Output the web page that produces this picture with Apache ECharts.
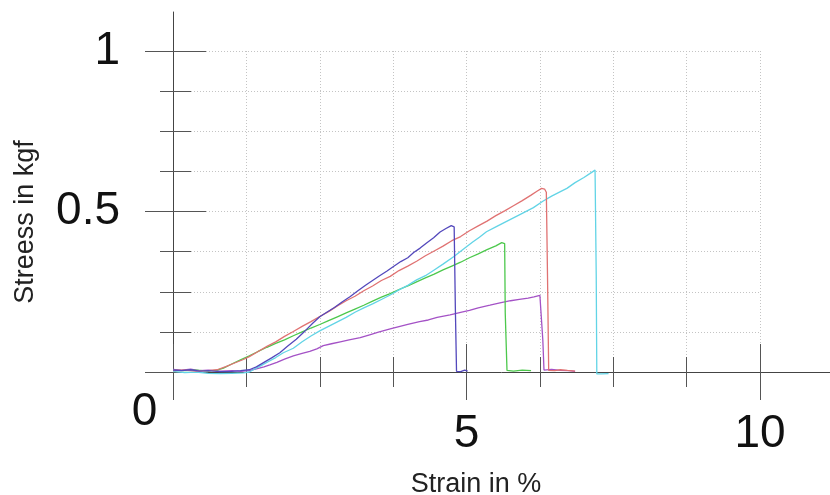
<!DOCTYPE html>
<html>
<head>
<meta charset="utf-8">
<script src="https://cdn.jsdelivr.net/npm/echarts@6/dist/echarts.min.js"></script>
<style>
  html, body { margin: 0; padding: 0; background: #fff; }
  #chart { width: 830px; height: 495px; }
</style>
</head>
<body>
<div id="chart"></div>
<script>
// [strain %, stress kgf], one list per specimen
const specimenBlue = [
  [0, 0.006], [0.15, 0.004], [0.3, 0.007], [0.45, 0.003], [0.6, 0.004], [0.8, 0.001],
  [1.0, 0.002], [1.15, 0.004], [1.3, 0.007], [1.42, 0.016], [1.55, 0.03], [1.68, 0.044],
  [1.82, 0.06], [1.95, 0.08], [2.1, 0.102], [2.25, 0.128], [2.38, 0.152], [2.5, 0.172],
  [2.62, 0.186], [2.75, 0.201], [2.88, 0.218], [3.02, 0.235], [3.15, 0.253], [3.28, 0.27],
  [3.4, 0.285], [3.52, 0.3], [3.64, 0.314], [3.75, 0.328], [3.88, 0.344], [4.0, 0.356],
  [4.1, 0.372], [4.21, 0.386], [4.32, 0.402], [4.44, 0.418], [4.55, 0.436], [4.65, 0.447],
  [4.74, 0.456], [4.79, 0.452], [4.81, 0.2], [4.83, 0.002], [4.9, 0.001], [4.97, 0.006], [5.02, 0.003]
];
const specimenRed = [
  [0, 0.004], [0.2, 0.006], [0.4, 0.003], [0.6, 0.004], [0.75, 0.007], [0.9, 0.017],
  [1.05, 0.028], [1.2, 0.039], [1.3, 0.048], [1.45, 0.064], [1.6, 0.08], [1.75, 0.094],
  [1.9, 0.111], [2.05, 0.126], [2.2, 0.142], [2.35, 0.157], [2.5, 0.173], [2.65, 0.188],
  [2.8, 0.206], [2.95, 0.222], [3.1, 0.236], [3.25, 0.253], [3.4, 0.268], [3.55, 0.285],
  [3.7, 0.298], [3.85, 0.316], [4.0, 0.33], [4.15, 0.345], [4.3, 0.362], [4.45, 0.377],
  [4.6, 0.392], [4.75, 0.409], [4.9, 0.422], [5.05, 0.44], [5.2, 0.455], [5.35, 0.47],
  [5.5, 0.487], [5.65, 0.502], [5.8, 0.518], [5.95, 0.534], [6.1, 0.551], [6.2, 0.563],
  [6.28, 0.572], [6.33, 0.57], [6.36, 0.56], [6.38, 0.3], [6.4, 0.005], [6.5, 0.004],
  [6.6, 0.007], [6.72, 0.005], [6.85, 0.003]
];
const specimenCyan = [
  [0, 0.002], [0.2, -0.002], [0.4, 0.0], [0.6, -0.004], [0.8, -0.005], [1.0, -0.004],
  [1.2, -0.003], [1.3, 0.0], [1.4, 0.01], [1.5, 0.02], [1.62, 0.032], [1.75, 0.045],
  [1.88, 0.06], [2.05, 0.074], [2.2, 0.094], [2.35, 0.112], [2.5, 0.128], [2.65, 0.142],
  [2.8, 0.156], [2.95, 0.17], [3.1, 0.186], [3.25, 0.2], [3.4, 0.212], [3.55, 0.226],
  [3.7, 0.24], [3.85, 0.256], [4.0, 0.27], [4.15, 0.287], [4.3, 0.3], [4.45, 0.318],
  [4.6, 0.336], [4.78, 0.359], [4.95, 0.383], [5.1, 0.404], [5.22, 0.42], [5.34, 0.437],
  [5.5, 0.452], [5.65, 0.466], [5.8, 0.48], [5.95, 0.494], [6.14, 0.512], [6.3, 0.532],
  [6.45, 0.548], [6.6, 0.562], [6.71, 0.572], [6.85, 0.59], [7.0, 0.606], [7.1, 0.618],
  [7.19, 0.629], [7.21, 0.3], [7.22, -0.006], [7.3, -0.006], [7.42, -0.005]
];
const specimenGreen = [
  [0, 0.005], [0.2, 0.004], [0.4, 0.006], [0.6, 0.003], [0.75, 0.006], [0.86, 0.012],
  [1.0, 0.025], [1.15, 0.038], [1.3, 0.05], [1.45, 0.064], [1.6, 0.077], [1.75, 0.089],
  [1.9, 0.1], [2.05, 0.113], [2.2, 0.125], [2.35, 0.137], [2.5, 0.148], [2.65, 0.16],
  [2.8, 0.172], [2.95, 0.184], [3.1, 0.196], [3.25, 0.208], [3.4, 0.221], [3.55, 0.233],
  [3.7, 0.244], [3.85, 0.257], [4.0, 0.268], [4.15, 0.281], [4.3, 0.293], [4.45, 0.305],
  [4.6, 0.318], [4.75, 0.33], [4.9, 0.342], [5.05, 0.356], [5.2, 0.368], [5.35, 0.381],
  [5.5, 0.393], [5.6, 0.403], [5.63, 0.405], [5.65, 0.4], [5.66, 0.184], [5.69, 0.005],
  [5.8, 0.003], [5.95, 0.006], [6.1, 0.004]
];
const specimenPurple = [
  [0, 0.008], [0.15, 0.006], [0.3, 0.009], [0.45, 0.004], [0.6, 0.006], [0.8, 0.003],
  [1.0, 0.004], [1.15, 0.002], [1.3, 0.004], [1.42, 0.01], [1.55, 0.016], [1.65, 0.022],
  [1.77, 0.03], [1.9, 0.04], [2.05, 0.05], [2.2, 0.058], [2.33, 0.064], [2.45, 0.072],
  [2.56, 0.082], [2.7, 0.088], [2.85, 0.094], [3.0, 0.1], [3.19, 0.107], [3.35, 0.116],
  [3.5, 0.124], [3.7, 0.134], [3.85, 0.141], [4.0, 0.148], [4.2, 0.157], [4.35, 0.162],
  [4.5, 0.17], [4.72, 0.178], [4.9, 0.186], [5.05, 0.192], [5.2, 0.2], [5.4, 0.208],
  [5.57, 0.215], [5.75, 0.222], [5.9, 0.226], [6.05, 0.23], [6.15, 0.234], [6.25, 0.239],
  [6.28, 0.236], [6.3, 0.1], [6.32, 0.006], [6.45, 0.008], [6.6, 0.005], [6.75, 0.004], [6.85, 0.002]
];

const xTickLabels = ['0', '5', '10'];
const yTickLabels = ['', '0.5', '1'];

const FONT = '"Liberation Sans", Arial, sans-serif';
const gridLine = { lineStyle: { color: '#c4c4c4', type: [1, 2], width: 1 } };
const tickStyle = { color: '#555', width: 1 };

function curve(data, color) {
  return {
    type: 'line',
    xAxisIndex: 0,
    yAxisIndex: 0,
    data: data,
    showSymbol: false,
    symbol: 'none',
    clip: false,
    lineStyle: { color: color, width: 1.3 },
    emphasis: { disabled: true },
  };
}

const chart = echarts.init(document.getElementById('chart'));
chart.setOption({
  animation: false,
  backgroundColor: '#fff',
  grid: [
    { left: 173, top: 51, width: 587, height: 321, outerBoundsMode: 'none' },
    { left: 173, top: 12, right: 0, height: 360, outerBoundsMode: 'none' },
  ],
  xAxis: [
    {
      gridIndex: 0,
      type: 'value',
      position: 'bottom',
      min: 0,
      max: 10,
      interval: 5,
      axisLine: { show: false },
      axisTick: { show: true, length: 28, lineStyle: tickStyle },
      minorTick: { show: true, splitNumber: 4, length: 15, lineStyle: tickStyle },
      splitLine: gridLine,
      minorSplitLine: { show: true, lineStyle: gridLine.lineStyle },
      axisLabel: {
        margin: 17,
        formatter: (v, i) => (i === 0 ? '{z|' : '{n|') + xTickLabels[i] + '}',
        rich: {
          z: { fontSize: 46, fontFamily: FONT, color: '#111', padding: [0, 57, 0, 0] },
          n: { fontSize: 46, fontFamily: FONT, color: '#111', padding: [22, 0, 0, 0] },
        },
      },
      name: 'Strain in %',
      nameLocation: 'middle',
      nameGap: 99,
      nameTextStyle: { fontSize: 27, fontFamily: FONT, color: '#222', padding: [0, 0, 0, 19] },
    },
    {
      gridIndex: 0,
      type: 'value',
      position: 'bottom',
      offset: 0,
      min: 0,
      max: 10,
      interval: 5,
      axisLine: { show: false },
      axisTick: { show: true, inside: true, length: 28, lineStyle: tickStyle },
      minorTick: { show: true, splitNumber: 4, length: 15, lineStyle: tickStyle },
      splitLine: { show: false },
      axisLabel: { show: false },
    },
    {
      gridIndex: 1,
      type: 'value',
      position: 'bottom',
      min: 0,
      max: 1,
      axisLine: { show: true, onZero: false, lineStyle: { color: '#444', width: 1 } },
      axisTick: { show: false },
      splitLine: { show: false },
      axisLabel: { show: false },
    },
  ],
  yAxis: [
    {
      gridIndex: 0,
      type: 'value',
      position: 'left',
      min: 0,
      max: 1,
      interval: 0.5,
      axisLine: { show: false },
      axisTick: { show: true, length: 28, lineStyle: tickStyle },
      minorTick: { show: true, splitNumber: 4, length: 13, lineStyle: tickStyle },
      splitLine: gridLine,
      minorSplitLine: { show: true, lineStyle: gridLine.lineStyle },
      axisLabel: {
        margin: 53,
        fontSize: 46,
        fontFamily: FONT,
        color: '#111',
        formatter: (v, i) => yTickLabels[i],
      },
      name: 'Streess in kgf',
      nameLocation: 'middle',
      nameGap: 134,
      nameTextStyle: { fontSize: 27, fontFamily: FONT, color: '#222', padding: [0, 21, 0, 0] },
    },
    {
      gridIndex: 0,
      type: 'value',
      position: 'left',
      offset: 0,
      min: 0,
      max: 1,
      interval: 0.5,
      axisLine: { show: false },
      axisTick: { show: true, inside: true, length: 33, lineStyle: tickStyle },
      minorTick: { show: true, splitNumber: 4, length: 18, lineStyle: tickStyle },
      splitLine: { show: false },
      axisLabel: { show: false },
    },
    {
      gridIndex: 1,
      type: 'value',
      position: 'left',
      min: 0,
      max: 1,
      axisLine: { show: true, onZero: false, lineStyle: { color: '#444', width: 1 } },
      axisTick: { show: false },
      splitLine: { show: false },
      axisLabel: { show: false },
    },
  ],
  series: [
    curve(specimenPurple, '#a452c6'),
    curve(specimenGreen, '#4cc84c'),
    curve(specimenCyan, '#62d4e6'),
    curve(specimenRed, '#e07272'),
    curve(specimenBlue, '#5348bc'),
  ],
});
</script>
</body>
</html>
